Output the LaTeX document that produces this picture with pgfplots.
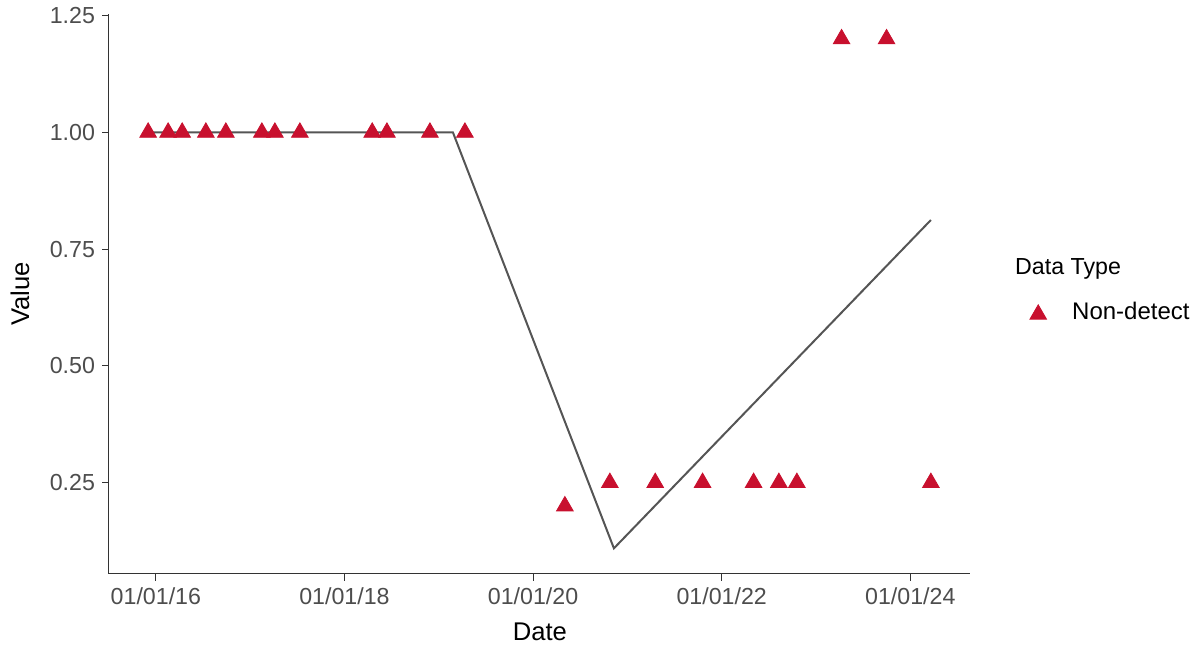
\documentclass[border=0pt]{standalone}
\usepackage{fontspec}
\setmainfont{Liberation Sans}
\usepackage{pgfplots}
\pgfplotsset{compat=1.18}
\definecolor{ndred}{RGB}{200,16,46}
\definecolor{axgray}{RGB}{51,51,51}
\definecolor{tickgray}{RGB}{77,77,77}
\definecolor{linegray}{RGB}{85,85,85}
\begin{document}
\begin{tikzpicture}[x=1pt,y=1pt]
\useasboundingbox (0,0) rectangle (599.5,324);
\begin{axis}[
  at={(54.5pt,37.1pt)}, anchor=south west,
  scale only axis, width=430.5pt, height=280.1pt,
  xmin=2015.503, xmax=2024.633, ymin=0.055, ymax=1.2545,
  clip=false,
  axis x line*=bottom, axis y line*=left,
  axis line style={axgray, line width=0.5pt, -},
  tick align=outside, major tick length=3.5pt,
  tick style={axgray, line width=0.5pt},
  xtick={2016,2018,2020,2022,2024},
  xticklabels={01/01/16,01/01/18,01/01/20,01/01/22,01/01/24},
  ytick={0.25,0.5,0.75,1,1.25},
  yticklabel style={/pgf/number format/fixed, /pgf/number format/precision=2, /pgf/number format/fixed zerofill},
  /pgf/number format/assume math mode=true,
  ticklabel style={font=\fontsize{11.6}{13}\selectfont, text=tickgray},
  xlabel={Date}, ylabel={Value},
  every axis x label/.style={at={(axis description cs:0.5005,-0.103)}, anchor=center, font=\fontsize{12.8}{14}\selectfont, text=black},
  every axis y label/.style={at={(axis description cs:-0.1035,0.5)}, anchor=center, rotate=90, font=\fontsize{12.8}{14}\selectfont, text=black},
  legend style={at={(axis description cs:1.059,0.4673)}, anchor=west, draw=none, fill=none,
    font=\fontsize{12}{14}\selectfont, inner sep=0pt},
  legend cell align=left,
  legend image code/.code={\draw[#1] plot coordinates {(0pt,-1.2pt)}; \path[draw=none,fill=none] (-8.5pt,0pt) -- (15pt,0pt);},
]
\addplot[only marks, mark=triangle*, mark size=4.8pt, color=ndred] coordinates {
 (2015.918,1.0) (2016.130,1.0) (2016.279,1.0) (2016.530,1.0) (2016.742,1.0)
 (2017.124,1.0) (2017.262,1.0) (2017.527,1.0) (2018.294,1.0) (2018.450,1.0)
 (2018.906,1.0) (2019.277,1.0)
 (2020.337,0.2) (2020.814,0.25) (2021.295,0.25) (2021.797,0.25)
 (2022.338,0.25) (2022.606,0.25) (2022.797,0.25)
 (2023.271,1.2) (2023.748,1.2) (2024.218,0.25)
};
\addlegendentry{Non-detect}
\addplot[forget plot, color=linegray, line width=1pt, no marks] coordinates {
 (2015.918,1.0) (2019.15,1.0) (2020.857,0.1095) (2024.218,0.8125)
};
\node[anchor=west, inner sep=0pt, font=\fontsize{11.6}{14}\selectfont] at (axis description cs:1.052,0.544) {Data Type};
\end{axis}
\end{tikzpicture}
\end{document}
